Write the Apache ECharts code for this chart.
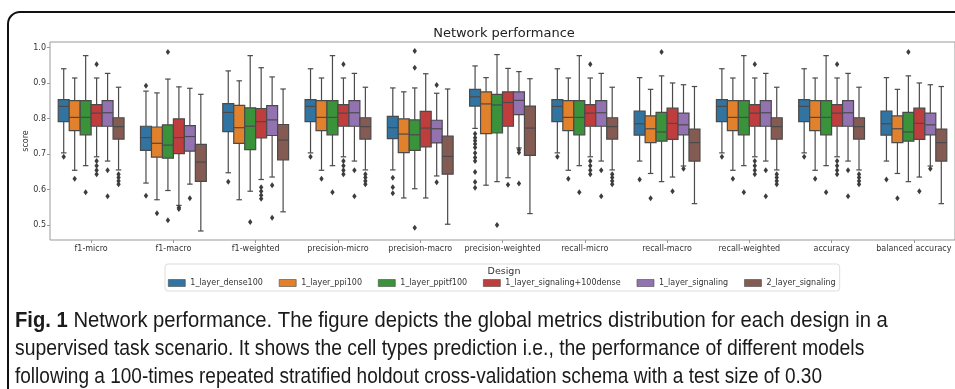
<!DOCTYPE html>
<html>
<head>
<meta charset="utf-8">
<script src="https://cdn.jsdelivr.net/npm/echarts@6/dist/echarts.min.js"></script>
<style>
  html, body { margin: 0; padding: 0; background: #fff; }
  #chart { width: 955px; height: 389px; }
</style>
</head>
<body>
<div id="chart"></div>
<script>
const categories = [
  "f1-micro", "f1-macro", "f1-weighted", "precision-micro", "precision-macro",
  "precision-weighted", "recall-micro", "recall-macro", "recall-weighted",
  "accuracy", "balanced accuracy"
];
const designs = [
  "1_layer_dense100", "1_layer_ppi100", "1_layer_ppitf100",
  "1_layer_signaling+100dense", "1_layer_signaling", "2_layer_signaling"
];
const yTicks = [0.5, 0.6, 0.7, 0.8, 0.9, 1.0];

// [lower whisker, q1, median, q3, upper whisker] for each design
// micro scores (f1/precision/recall), weighted recall and accuracy come out identical
const microStats = [
  [0.703, 0.791, 0.834, 0.853, 0.940],
  [0.654, 0.766, 0.803, 0.850, 0.914],
  [0.667, 0.754, 0.803, 0.850, 0.977],
  [0.692, 0.778, 0.815, 0.839, 0.914],
  [0.680, 0.778, 0.816, 0.850, 0.927],
  [0.655, 0.742, 0.777, 0.802, 0.888]
];
const microOutliers = [
  [0.692], [0.630], [0.592],
  [0.953, 0.680, 0.667, 0.654, 0.643],
  [0.654, 0.581],
  [0.643, 0.634, 0.624, 0.615]
];
const f1MacroStats = [
  [0.618, 0.710, 0.746, 0.778, 0.877],
  [0.571, 0.691, 0.730, 0.776, 0.872],
  [0.597, 0.688, 0.725, 0.782, 0.911],
  [0.555, 0.701, 0.746, 0.799, 0.889],
  [0.615, 0.708, 0.749, 0.780, 0.885],
  [0.483, 0.623, 0.677, 0.727, 0.868]
];
const f1MacroOutliers = [[0.892, 0.582], [0.533], [0.987, 0.513], [0.549, 0.545], [0.575], []];
const f1WeightedStats = [
  [0.647, 0.763, 0.817, 0.842, 0.934],
  [0.571, 0.730, 0.774, 0.837, 0.906],
  [0.595, 0.712, 0.778, 0.830, 0.977],
  [0.628, 0.745, 0.791, 0.828, 0.943],
  [0.635, 0.752, 0.796, 0.836, 0.917],
  [0.537, 0.683, 0.739, 0.783, 0.883]
];
const f1WeightedOutliers = [[0.622], [], [0.508], [0.606, 0.595, 0.584, 0.574], [0.612, 0.520], []];
const precisionMacroStats = [
  [0.655, 0.743, 0.774, 0.806, 0.886],
  [0.576, 0.704, 0.756, 0.799, 0.875],
  [0.602, 0.710, 0.754, 0.796, 0.886],
  [0.576, 0.720, 0.773, 0.820, 0.926],
  [0.638, 0.731, 0.771, 0.795, 0.871],
  [0.502, 0.643, 0.693, 0.750, 0.883]
];
const precisionMacroOutliers = [[0.633, 0.606, 0.589], [], [0.990, 0.943, 0.492], [], [0.894, 0.620], []];
const precisionWeightedStats = [
  [0.772, 0.835, 0.861, 0.882, 0.948],
  [0.612, 0.757, 0.841, 0.875, 0.915],
  [0.622, 0.759, 0.838, 0.868, 0.980],
  [0.633, 0.778, 0.845, 0.875, 0.941],
  [0.717, 0.811, 0.851, 0.875, 0.932],
  [0.532, 0.696, 0.773, 0.835, 0.912]
];
const precisionWeightedOutliers = [
  [0.757, 0.746, 0.737, 0.728, 0.718, 0.703, 0.690, 0.680, 0.649, 0.621, 0.605],
  [], [0.500], [0.613], [0.712, 0.704, 0.617], []
];
// recall-macro and balanced accuracy come out identical
const recallMacroStats = [
  [0.680, 0.753, 0.785, 0.821, 0.915],
  [0.645, 0.732, 0.771, 0.807, 0.882],
  [0.622, 0.736, 0.762, 0.817, 0.920],
  [0.635, 0.741, 0.786, 0.829, 0.900],
  [0.666, 0.754, 0.782, 0.815, 0.895],
  [0.560, 0.680, 0.732, 0.770, 0.890]
];
const recallMacroOutliers = [[0.628], [0.575], [0.987], [0.595], [0.658], []];

const metricStats = [
  microStats, f1MacroStats, f1WeightedStats, microStats, precisionMacroStats,
  precisionWeightedStats, microStats, recallMacroStats, microStats, microStats, recallMacroStats
];
const metricOutliers = [
  microOutliers, f1MacroOutliers, f1WeightedOutliers, microOutliers, precisionMacroOutliers,
  precisionWeightedOutliers, microOutliers, recallMacroOutliers, microOutliers, microOutliers, recallMacroOutliers
];

const captionLines = [
  "{b|Fig. 1} Network performance. The figure depicts the global metrics distribution for each design in a",
  "supervised task scenario. It shows the cell types prediction i.e., the performance of different models",
  "following a 100-times repeated stratified holdout cross-validation schema with a test size of 0.30"
];

const colors = ["#3274a1", "#e1812c", "#3a923a", "#c03d3e", "#9372b2", "#845b53"];
const lineColor = "#4a4a4a";
const labelFont = "DejaVu Sans";
// the caption font is condensed; squeeze each line to roughly the same width
const captionScale = [0.94, 0.9, 0.885];

const chart = echarts.init(document.getElementById("chart"));

// x centre of a design's box inside its category band
function boxCenter(api, m, d) {
  const band = api.size([1, 0])[0];
  const w = (band * 0.8) / designs.length;
  return { cx: api.coord([m, 0.8])[0] + (d - (designs.length - 1) / 2) * w, w: w };
}

function boxRenderer(d) {
  return function (params, api) {
    const m = api.value(0);
    const { cx, w } = boxCenter(api, m, d);
    const y = (i) => api.coord([m, api.value(i)])[1];
    const lo = y(1), q1 = y(2), med = y(3), q3 = y(4), hi = y(5);
    const line = { stroke: lineColor, lineWidth: 1.2 };
    return {
      type: "group",
      children: [
        { type: "line", shape: { x1: cx, y1: lo, x2: cx, y2: q1 }, style: line },
        { type: "line", shape: { x1: cx, y1: q3, x2: cx, y2: hi }, style: line },
        { type: "line", shape: { x1: cx - w / 4, y1: lo, x2: cx + w / 4, y2: lo }, style: line },
        { type: "line", shape: { x1: cx - w / 4, y1: hi, x2: cx + w / 4, y2: hi }, style: line },
        {
          type: "rect",
          shape: { x: cx - w / 2, y: q3, width: w, height: q1 - q3 },
          style: { fill: colors[d], stroke: lineColor, lineWidth: 1.2 }
        },
        { type: "line", shape: { x1: cx - w / 2, y1: med, x2: cx + w / 2, y2: med }, style: line }
      ]
    };
  };
}

function outlierRenderer(d) {
  return function (params, api) {
    const m = api.value(0);
    const { cx } = boxCenter(api, m, d);
    const cy = api.coord([m, api.value(1)])[1];
    return {
      type: "polygon",
      shape: { points: [[cx, cy - 3], [cx + 2.2, cy], [cx, cy + 3], [cx - 2.2, cy]] },
      style: { fill: "#3d3d3d" }
    };
  };
}

const series = [];
designs.forEach((name, d) => {
  series.push({
    type: "custom",
    name: name,
    renderItem: boxRenderer(d),
    itemStyle: { color: colors[d] },
    encode: { x: 0, y: [1, 2, 3, 4, 5] },
    data: categories.map((c, m) => [m].concat(metricStats[m][d])),
    z: 2
  });
});
designs.forEach((name, d) => {
  const pts = [];
  categories.forEach((c, m) => metricOutliers[m][d].forEach((v) => pts.push([m, v])));
  series.push({
    type: "custom",
    name: "outliers " + name,
    renderItem: outlierRenderer(d),
    encode: { x: 0, y: 1 },
    data: pts,
    z: 3
  });
});

const option = {
  animation: false,
  backgroundColor: "#fff",
  grid: {
    left: 50, top: 42, width: 908, height: 198,
    show: true, borderColor: "#999", borderWidth: 1
  },
  xAxis: {
    type: "category",
    data: categories,
    axisLine: { show: false },
    axisTick: { show: true, alignWithLabel: true, length: 3, lineStyle: { color: "#999" } },
    axisLabel: { fontFamily: labelFont, fontSize: 8, color: "#333", margin: 5, interval: 0 }
  },
  yAxis: {
    type: "value",
    min: 0.4576,
    max: 1.0154,
    name: "score",
    nameLocation: "middle",
    nameGap: 20,
    nameMoveOverlap: false,
    nameTextStyle: { fontFamily: labelFont, fontSize: 8, color: "#333" },
    axisLine: { show: false },
    splitLine: { show: false },
    axisTick: { show: true, length: 3, customValues: yTicks, lineStyle: { color: "#999" } },
    axisLabel: {
      fontFamily: labelFont, fontSize: 8, color: "#333", margin: 4,
      customValues: yTicks,
      formatter: (v) => v.toFixed(1)
    }
  },
  legend: {
    data: designs,
    left: 165,
    top: 264,
    orient: "horizontal",
    icon: "rect",
    itemWidth: 17,
    itemHeight: 7,
    itemGap: 16,
    padding: [15, 4, 4, 3],
    borderColor: "#ddd",
    borderWidth: 1,
    borderRadius: 3,
    itemStyle: { borderColor: lineColor, borderWidth: 0.6 },
    textStyle: { fontFamily: labelFont, fontSize: 8, color: "#333", padding: [0, 0, 0, 0] }
  },
  graphic: [
    {
      type: "rect",
      shape: { x: 8, y: 12, width: 1000, height: 500, r: 12 },
      style: { fill: "none", stroke: "#111", lineWidth: 2 },
      silent: true
    },
    {
      type: "text",
      x: 504, y: 34,
      style: {
        text: "Network performance", fill: "#222",
        font: "13px DejaVu Sans", textAlign: "center", textVerticalAlign: "middle"
      }
    },
    {
      type: "text",
      x: 504, y: 272,
      style: {
        text: "Design", fill: "#333",
        font: "9.5px DejaVu Sans", textAlign: "center", textVerticalAlign: "middle"
      }
    }
  ].concat(captionLines.map((t, i) => ({
    type: "text",
    x: 15, y: 321 + i * 28,
    scaleX: captionScale[i],
    style: {
      text: t, fill: "#1a1a1a",
      font: "21.5px Liberation Sans", textAlign: "left", textVerticalAlign: "middle",
      rich: { b: { fontWeight: "bold", fontSize: 21.5, fontFamily: "Liberation Sans" } }
    }
  }))),
  series: series
};

chart.setOption(option);
</script>
</body>
</html>
